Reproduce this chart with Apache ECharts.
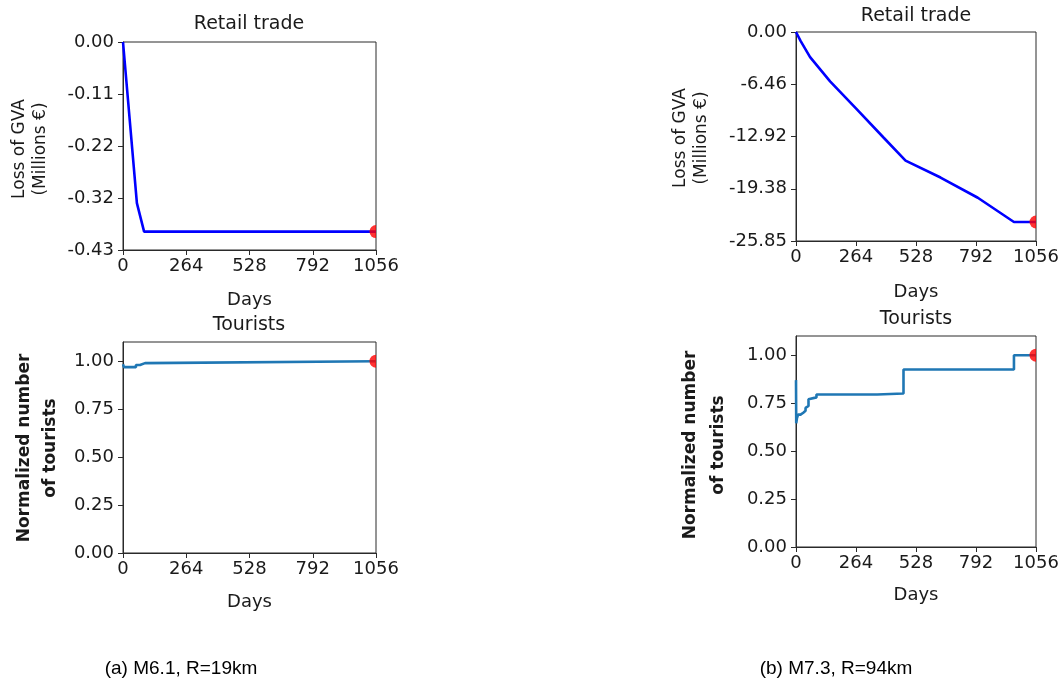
<!DOCTYPE html>
<html>
<head>
<meta charset="utf-8">
<script src="https://cdn.jsdelivr.net/npm/echarts@6/dist/echarts.min.js"></script>
<style>
html,body{margin:0;padding:0;background:#fff;}
#chart{width:1064px;height:684px;}
</style>
</head>
<body>
<div id="chart"></div>
<script>
// ---- data ----
const xTicks = [0, 264, 528, 792, 1056];

// (a) M6.1, R=19km
const retailA = [[0, 0], [58, -0.333], [88, -0.392], [1056, -0.392]];
const retailAYTicks = [0, -0.1075, -0.215, -0.3225, -0.43];
const retailAYLabels = ['0.00', '-0.11', '-0.22', '-0.32', '-0.43'];
// step data: value holds from this day until the next listed day
const touristsA = [[0, 0.984], [4, 0.969], [54, 0.98], [71, 0.99], [92, 1.0], [1056, 1.0]];

// (b) M7.3, R=94km
const retailB = [[0, 0], [20, -1.1], [62, -3.1], [150, -6.1], [269, -9.6], [385, -13.05], [482, -15.9],
                 [636, -18.0], [800, -20.5], [959, -23.5], [1056, -23.5]];
const retailBYTicks = [0, -6.4625, -12.925, -19.3875, -25.85];
const retailBYLabels = ['0.00', '-6.46', '-12.92', '-19.38', '-25.85'];
const touristsB = [[0, 0.87], [1, 0.645], [4, 0.67], [9, 0.69], [20, 0.70], [32, 0.71], [42, 0.725],
                   [48, 0.735], [55, 0.77], [62, 0.78], [90, 0.795], [357, 0.80], [473, 0.925],
                   [959, 1.0], [1056, 1.0]];
const touristYTicks = [0, 0.25, 0.5, 0.75, 1.0];
const touristYLabels = ['0.00', '0.25', '0.50', '0.75', '1.00'];

const titles = ['Retail trade', 'Tourists'];
const yNames = ['Loss of GVA\n(Millions €)', 'Normalized number\nof tourists'];
const xName = 'Days';
const captions = ['(a) M6.1, R=19km', '(b) M7.3, R=94km'];

// ---- chart ----
const FONT = 'DejaVu Sans';
const TXT = '#1a1a1a';
const AX = '#2a2a2a';

function toSteps(arr) {
  const out = [];
  for (let i = 0; i < arr.length; i++) {
    out.push(arr[i]);
    if (i < arr.length - 1) out.push([arr[i + 1][0], arr[i][1]]);
  }
  return out;
}

function xAxis(gridIndex, gap) {
  return {
    type: 'value', gridIndex, min: 0, max: 1056,
    name: xName, nameLocation: 'middle', nameGap: gap,
    nameTextStyle: { fontFamily: FONT, fontSize: 18, color: TXT },
    axisLine: { show: true, onZero: false, lineStyle: { color: AX, width: 1 } },
    axisTick: { show: true, length: 5, lineStyle: { color: AX }, customValues: xTicks },
    axisLabel: { fontFamily: FONT, fontSize: 18, color: TXT, margin: 7, customValues: xTicks,
                 formatter: v => String(Math.round(v)) },
    splitLine: { show: false }
  };
}
function yAxis(gridIndex, min, max, ticks, labels) {
  return {
    type: 'value', gridIndex, min, max,
    axisLine: { show: true, onZero: false, lineStyle: { color: AX, width: 1 } },
    axisTick: { show: true, length: 5, lineStyle: { color: AX }, customValues: ticks },
    axisLabel: {
      fontFamily: FONT, fontSize: 18, color: TXT, margin: 9, customValues: ticks,
      formatter: function (v) {
        let best = 0, bd = Infinity;
        ticks.forEach((t, i) => { const d = Math.abs(t - v); if (d < bd) { bd = d; best = i; } });
        return labels[best];
      }
    },
    splitLine: { show: false }
  };
}

function dot(xi, yi, pt) {
  return {
    type: 'scatter', xAxisIndex: xi, yAxisIndex: yi, data: [pt],
    symbol: 'path://M10,0 A10,10 0 0 0 10,20 Z',
    symbolSize: [6.5, 13], symbolOffset: [-3.25, 0],
    itemStyle: { color: '#ff0000' }, z: 5, silent: true
  };
}

function vText(text, x, y, size, bold, lh) {
  return { type: 'text', x, y, rotation: Math.PI / 2,
    style: { text, font: (bold ? 'bold ' : '') + size + 'px "DejaVu Sans"', fill: TXT,
             align: 'center', verticalAlign: 'middle', lineHeight: lh } };
}
function hText(text, x, y, font, fill) {
  return { type: 'text', x, y, style: { text, font, fill, align: 'center', verticalAlign: 'middle' } };
}

const grids = [
  { left: 123, top: 42, width: 253, height: 208 },
  { left: 123, top: 342, width: 253, height: 211 },
  { left: 796, top: 32, width: 240, height: 209 },
  { left: 796, top: 336, width: 240, height: 211 }
].map(g => Object.assign({ show: true, borderColor: AX, borderWidth: 1, backgroundColor: 'transparent', containLabel: false }, g));

const option = {
  backgroundColor: '#ffffff',
  animation: false,
  grid: grids,
  xAxis: [xAxis(0, 41), xAxis(1, 40), xAxis(2, 42), xAxis(3, 39)],
  yAxis: [
    yAxis(0, -0.43, 0, retailAYTicks, retailAYLabels),
    yAxis(1, 0, 1.1, touristYTicks, touristYLabels),
    yAxis(2, -25.85, 0, retailBYTicks, retailBYLabels),
    yAxis(3, 0, 1.1, touristYTicks, touristYLabels)
  ],
  series: [
    { type: 'line', xAxisIndex: 0, yAxisIndex: 0, data: retailA, showSymbol: false, lineStyle: { color: '#0000ff', width: 2.6 } },
    { type: 'line', xAxisIndex: 1, yAxisIndex: 1, data: toSteps(touristsA), showSymbol: false, lineStyle: { color: '#1f77b4', width: 2.6 } },
    { type: 'line', xAxisIndex: 2, yAxisIndex: 2, data: retailB, showSymbol: false, lineStyle: { color: '#0000ff', width: 2.6 } },
    { type: 'line', xAxisIndex: 3, yAxisIndex: 3, data: toSteps(touristsB), showSymbol: false, lineStyle: { color: '#1f77b4', width: 2.6 } },
    dot(0, 0, retailA[retailA.length - 1]),
    dot(1, 1, touristsA[touristsA.length - 1]),
    dot(2, 2, retailB[retailB.length - 1]),
    dot(3, 3, touristsB[touristsB.length - 1])
  ],
  graphic: [
    hText(titles[0], 249, 24, '19px "DejaVu Sans"', TXT),
    hText(titles[1], 249, 325, '19px "DejaVu Sans"', TXT),
    hText(titles[0], 916, 16, '19px "DejaVu Sans"', TXT),
    hText(titles[1], 916, 319, '19px "DejaVu Sans"', TXT),
    vText(yNames[0], 30, 149, 17, false, 21),
    vText(yNames[1], 38, 448, 17, true, 26),
    vText(yNames[0], 691, 138, 17, false, 21),
    vText(yNames[1], 705, 445, 17, true, 28),
    hText(captions[0], 181, 669, '19px "Liberation Sans"', '#000'),
    hText(captions[1], 836, 669, '19px "Liberation Sans"', '#000')
  ]
};

const chart = echarts.init(document.getElementById('chart'), null, { renderer: 'canvas' });
chart.setOption(option);
</script>
</body>
</html>
